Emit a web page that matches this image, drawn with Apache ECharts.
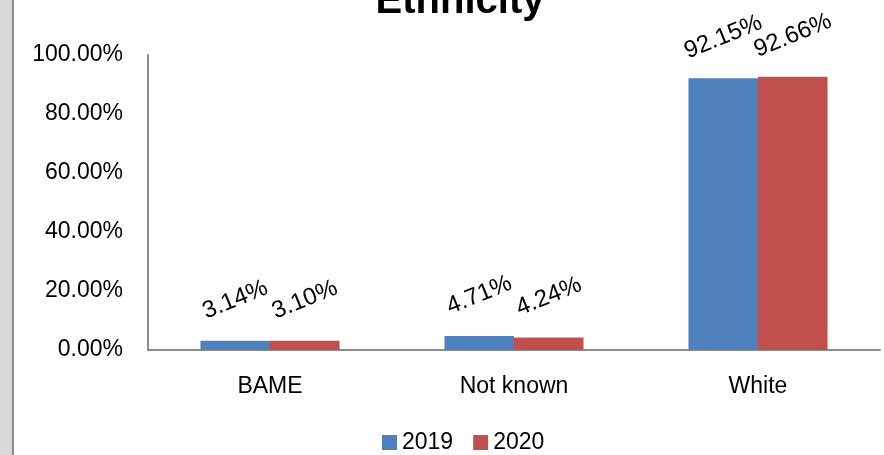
<!DOCTYPE html>
<html><head><meta charset="utf-8">
<script src="https://cdn.jsdelivr.net/npm/echarts@6/dist/echarts.min.js"></script>
<style>html,body{margin:0;padding:0;background:#fff}#c{width:884px;height:455px}</style>
</head><body><div id="c"></div>
<script>
const categories = ['BAME', 'Not known', 'White'];
const values2019 = [3.14, 4.71, 92.15];
const values2020 = [3.10, 4.24, 92.66];
const seriesNames = ['2019', '2020'];
const titleText = 'Ethnicity';

const chart = echarts.init(document.getElementById('c'));
const font = 'Liberation Sans';
const lbl = {
  show: true, position: 'top', distance: 28, rotate: 22, offset: [5, 0],
  formatter: p => p.value.toFixed(2) + '%',
  fontFamily: font, fontSize: 24, color: '#000'
};
chart.setOption({
  animation: false,
  title: { text: titleText, left: 455, textAlign: 'center', top: -23,
    textStyle: { fontFamily: font, fontWeight: 'bold', fontSize: 40, color: '#000' } },
  graphic: [
    { type: 'rect', shape: { x: 0, y: 0, width: 12, height: 455 }, style: { fill: '#d9d9d9' } },
    { type: 'rect', shape: { x: 12, y: 0, width: 2, height: 455 }, style: { fill: '#8c8c8c' } }
  ],
  legend: { bottom: -4, left: 377, itemWidth: 15, itemHeight: 15, itemGap: 20, icon: 'rect',
    textStyle: { fontFamily: font, fontSize: 23, color: '#000' } },
  grid: { left: 148, right: 4, top: 55, bottom: 105 },
  xAxis: { type: 'category', data: categories,
    axisLine: { lineStyle: { color: '#8c8c8c', width: 2 } }, axisTick: { show: false },
    axisLabel: { fontFamily: font, fontSize: 23, color: '#000', margin: 25 } },
  yAxis: { type: 'value', min: 0, max: 100, interval: 20,
    axisLine: { show: true, lineStyle: { color: '#8c8c8c', width: 2 } }, axisTick: { show: false },
    splitLine: { show: false },
    axisLabel: { fontFamily: font, fontSize: 23, color: '#000', margin: 25,
      formatter: v => v.toFixed(2) + '%' } },
  series: [
    { name: seriesNames[0], type: 'bar', data: values2019, barGap: '0%', barCategoryGap: '43%',
      itemStyle: { color: '#4f81bd' }, label: lbl },
    { name: seriesNames[1], type: 'bar', data: values2020,
      itemStyle: { color: '#c0504d' }, label: lbl }
  ]
});
</script></body></html>
